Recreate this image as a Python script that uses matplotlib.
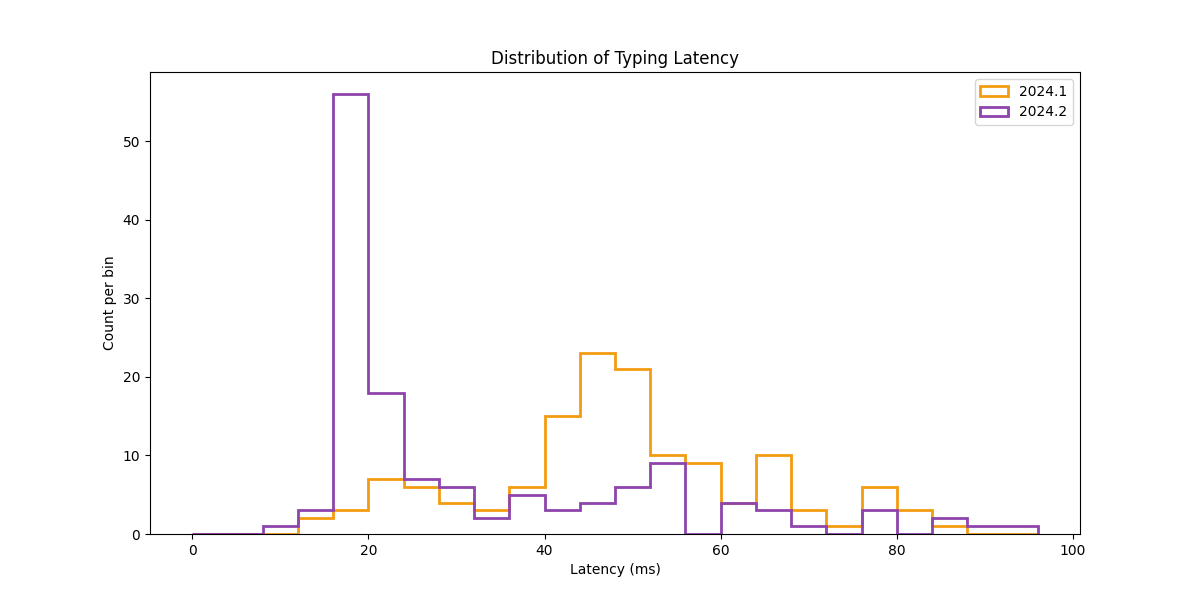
import numpy as np
import matplotlib
matplotlib.use("Agg")
import matplotlib.pyplot as plt

bin_edges = list(range(0, 100, 4))  # 0..96
counts_2024_1 = [0, 0, 0, 2, 3, 7, 6, 4, 3, 6, 15, 23, 21, 10, 9, 4, 10, 3, 1, 6, 3, 1, 0, 0]
counts_2024_2 = [0, 0, 1, 3, 56, 18, 7, 6, 2, 5, 3, 4, 6, 9, 0, 4, 3, 1, 0, 3, 0, 2, 1, 1]
labels = ["2024.1", "2024.2"]
colors = ["#f39c12", "#8e44ad"]

edges = np.array(bin_edges, dtype=float)
centers = (edges[:-1] + edges[1:]) / 2

fig, ax = plt.subplots(figsize=(12, 6), dpi=100)
for counts, lab, col in zip([counts_2024_1, counts_2024_2], labels, colors):
    ax.hist(centers, bins=edges, weights=counts, histtype="step",
            linewidth=2, color=col, label=lab)

ax.set_title("Distribution of Typing Latency")
ax.set_xlabel("Latency (ms)")
ax.set_ylabel("Count per bin")
ax.legend(loc="upper right")
fig.savefig("out.png")
